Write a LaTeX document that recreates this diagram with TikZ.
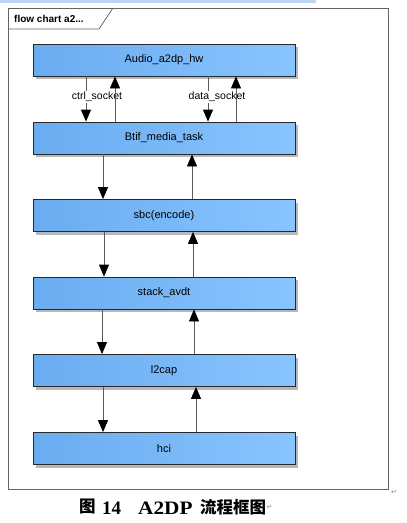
\documentclass[tikz,border=0pt]{standalone}
\usepackage{fontspec}
\setmainfont{Liberation Sans}
\newfontfamily\cjkfont{Noto Sans CJK SC}
\newfontfamily\capserif{Liberation Serif}
\newfontfamily\symfont{DejaVu Sans}
\usetikzlibrary{arrows.meta,shadows}
\definecolor{boxleft}{RGB}{106,172,240}
\definecolor{boxright}{RGB}{136,196,255}
\definecolor{boxline}{RGB}{40,40,40}
\definecolor{linkc}{RGB}{90,90,90}
\definecolor{framec}{RGB}{100,100,100}
\definecolor{topbar}{RGB}{190,212,245}
\tikzset{
  blk/.style={draw=boxline, line width=0.8pt, left color=boxleft, right color=boxright,
    minimum width=262pt, minimum height=32pt, inner sep=0pt,
    font=\fontsize{11}{12}\selectfont,
    drop shadow={shadow xshift=3pt, shadow yshift=-3pt, fill=black!35, opacity=0.8}},
  link/.style={draw=linkc, line width=0.8pt, -{Triangle[length=12pt,width=10pt,black]}},
  lbl/.style={fill=white, inner sep=1pt, font=\fontsize{10.5}{12}\selectfont},
  retmark/.style={text=black!45, inner sep=0pt, font=\symfont\fontsize{7}{8}\selectfont}
}
\begin{document}
\begin{tikzpicture}[x=1pt,y=-1pt]
\useasboundingbox (0,0) rectangle (407,523);
\fill[topbar] (0,0) rectangle (316,3);
% frame
\draw[framec, line width=0.8pt] (8,8) rectangle (388,489);
\draw[framec, line width=0.8pt] (8,29) -- (99,29) -- (113,8);
\node[anchor=west, inner sep=0pt, font=\bfseries\fontsize{10}{11}\selectfont] (title) at (14,19) {flow chart a2...};
% boxes
\node[blk] (audio) at (164,60) {Audio\_a2dp\_hw};
\node[blk] (btif) at (164,138) {Btif\_media\_task};
\node[blk] (sbc) at (164,215.5) {sbc(encode)};
\node[blk] (avdt) at (164,293) {stack\_avdt};
\node[blk] (l2cap) at (164,370.5) {l2cap};
\node[blk] (hci) at (164,448.5) {hci};
% down links
\draw[link] (audio.south -| 86,0) -- (btif.north -| 86,0);
\draw[link] (audio.south -| 208,0) -- (btif.north -| 208,0);
\node[lbl] (ctrl) at (97,97) {ctrl\_socket};
\node[lbl] (data) at (217,97) {data\_socket};
\draw[link] (btif.south -| 103,0) -- (sbc.north -| 103,0);
\draw[link] (sbc.south -| 104,0) -- (avdt.north -| 104,0);
\draw[link] (avdt.south -| 102,0) -- (l2cap.north -| 102,0);
\draw[link] (l2cap.south -| 103,0) -- (hci.north -| 103,0);
% up links
\draw[link] (btif.north -| 115,0) -- (audio.south -| 115,0);
\draw[link] (btif.north -| 236,0) -- (audio.south -| 236,0);
\draw[link] (sbc.north -| 192,0) -- (btif.south -| 192,0);
\draw[link] (avdt.north -| 193,0) -- (sbc.south -| 193,0);
\draw[link] (l2cap.north -| 194,0) -- (avdt.south -| 194,0);
\draw[link] (hci.north -| 196,0) -- (l2cap.south -| 196,0);
% caption
\node[anchor=west, inner sep=0pt, font=\cjkfont\bfseries\fontsize{16.5}{18}\selectfont] (cap1) at (79,507) {图};
\node[anchor=base west, inner sep=0pt, font=\capserif\bfseries\fontsize{19}{20}\selectfont] (cap2) at (102,514) {14};
\node[anchor=base west, inner sep=0pt, font=\capserif\bfseries\fontsize{19}{20}\selectfont] (cap3) at (138,514) {\scalebox{1.12}[1]{A2DP}};
\node[anchor=west, inner sep=0pt, font=\cjkfont\bfseries\fontsize{16.5}{18}\selectfont] (cap4) at (200,507) {流程框图};
\node[retmark, anchor=west] (ret1) at (cap4.east) {↵};
\node[retmark, anchor=west] (ret2) at (391,492) {↵};
\end{tikzpicture}
\end{document}
